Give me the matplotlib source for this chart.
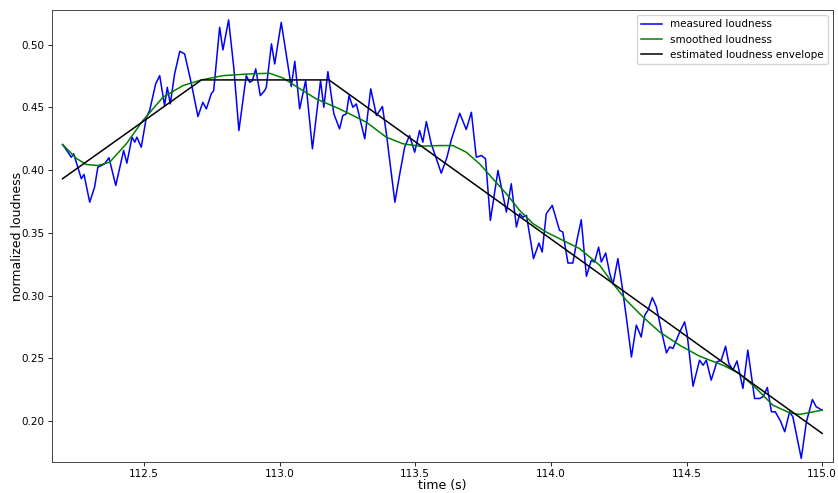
import numpy as np
import matplotlib
matplotlib.use("Agg")
import matplotlib.pyplot as plt

# measured loudness
t_meas = [112.200, 112.220, 112.232, 112.241, 112.269, 112.279, 112.300, 112.318, 112.330, 112.343,
          112.355, 112.371, 112.396, 112.414, 112.425, 112.437, 112.456, 112.466, 112.474, 112.490,
          112.509, 112.521, 112.543, 112.558, 112.576, 112.586, 112.597, 112.613, 112.632, 112.650,
          112.675, 112.699, 112.717, 112.730, 112.748, 112.757, 112.779, 112.791, 112.812, 112.831,
          112.850, 112.877, 112.890, 112.900, 112.912, 112.929, 112.945, 112.951, 112.970, 112.982,
          113.006, 113.043, 113.056, 113.074, 113.096, 113.121, 113.151, 113.163, 113.178, 113.200,
          113.221, 113.233, 113.246, 113.256, 113.270, 113.283, 113.314, 113.336, 113.357, 113.379,
          113.393, 113.425, 113.443, 113.461, 113.479, 113.498, 113.516, 113.528, 113.541, 113.559,
          113.596, 113.617, 113.633, 113.664, 113.688, 113.707, 113.725, 113.744, 113.759, 113.777,
          113.805, 113.836, 113.854, 113.873, 113.885, 113.897, 113.910, 113.936, 113.956, 113.968,
          113.983, 114.005, 114.032, 114.044, 114.063, 114.081, 114.096, 114.112, 114.131, 114.149,
          114.161, 114.176, 114.186, 114.202, 114.217, 114.229, 114.247, 114.263, 114.278, 114.297,
          114.315, 114.333, 114.346, 114.358, 114.374, 114.389, 114.407, 114.426, 114.438, 114.450,
          114.475, 114.493, 114.502, 114.524, 114.548, 114.561, 114.573, 114.591, 114.612, 114.628,
          114.644, 114.656, 114.671, 114.686, 114.708, 114.726, 114.751, 114.769, 114.782, 114.798,
          114.813, 114.827, 114.846, 114.862, 114.880, 114.892, 114.923, 114.942, 114.964, 114.978,
          115.000]
y_meas = [0.4204, 0.4143, 0.4103, 0.4130, 0.3932, 0.3966, 0.3745, 0.3865, 0.4024, 0.4037,
          0.4051, 0.4099, 0.3878, 0.4051, 0.4157, 0.4056, 0.4263, 0.4223, 0.4263, 0.4183,
          0.4422, 0.4475, 0.4687, 0.4753, 0.4515, 0.4660, 0.4528, 0.4767, 0.4947, 0.4926,
          0.4687, 0.4427, 0.4541, 0.4488, 0.4608, 0.4634, 0.5138, 0.4958, 0.5197, 0.4819,
          0.4316, 0.4753, 0.4700, 0.4714, 0.4807, 0.4594, 0.4634, 0.4660, 0.5006, 0.4846,
          0.5177, 0.4666, 0.4867, 0.4488, 0.4714, 0.4170, 0.4714, 0.4501, 0.4785, 0.4449,
          0.4329, 0.4435, 0.4449, 0.4594, 0.4501, 0.4528, 0.4250, 0.4648, 0.4435, 0.4507,
          0.4302, 0.3745, 0.3971, 0.4183, 0.4276, 0.4143, 0.4316, 0.4223, 0.4387, 0.4210,
          0.3976, 0.4103, 0.4242, 0.4453, 0.4324, 0.4461, 0.4103, 0.4117, 0.4091, 0.3600,
          0.3998, 0.3666, 0.3892, 0.3547, 0.3653, 0.3626, 0.3640, 0.3295, 0.3419, 0.3348,
          0.3653, 0.3719, 0.3520, 0.3507, 0.3260, 0.3260, 0.3441, 0.3605, 0.3154, 0.3282,
          0.3268, 0.3387, 0.3268, 0.3340, 0.3176, 0.3091, 0.3295, 0.3069, 0.2831, 0.2512,
          0.2765, 0.2671, 0.2844, 0.2884, 0.2985, 0.2910, 0.2725, 0.2544, 0.2592, 0.2579,
          0.2711, 0.2791, 0.2698, 0.2279, 0.2486, 0.2446, 0.2486, 0.2327, 0.2473, 0.2486,
          0.2597, 0.2460, 0.2407, 0.2480, 0.2261, 0.2566, 0.2181, 0.2181, 0.2194, 0.2269,
          0.2075, 0.2075, 0.2003, 0.1916, 0.2075, 0.2035, 0.1704, 0.1995, 0.2173, 0.2115,
          0.2088]

# smoothed loudness
t_smooth = [112.200, 112.251, 112.288, 112.330, 112.374, 112.435, 112.496, 112.570, 112.644, 112.712,
            112.791, 112.890, 112.963, 113.012, 113.062, 113.135, 113.221, 113.320, 113.393, 113.455,
            113.516, 113.590, 113.639, 113.688, 113.737, 113.786, 113.836, 113.885, 113.934, 113.983,
            114.032, 114.106, 114.180, 114.229, 114.278, 114.339, 114.401, 114.475, 114.548, 114.634,
            114.696, 114.757, 114.818, 114.880, 114.917, 115.000]
y_smooth = [0.4204, 0.4093, 0.4045, 0.4037, 0.4064, 0.4210, 0.4395, 0.4581, 0.4674, 0.4719,
            0.4753, 0.4767, 0.4772, 0.4735, 0.4666, 0.4568, 0.4488, 0.4382, 0.4263, 0.4210,
            0.4191, 0.4196, 0.4196, 0.4143, 0.4051, 0.3932, 0.3812, 0.3679, 0.3574, 0.3507,
            0.3454, 0.3375, 0.3242, 0.3096, 0.2963, 0.2831, 0.2711, 0.2605, 0.2518, 0.2446,
            0.2380, 0.2261, 0.2128, 0.2067, 0.2054, 0.2088]

# estimated envelope (piecewise linear)
t_env = [112.200, 112.712, 113.182, 115.000]
y_env = [0.3932, 0.4719, 0.4719, 0.1903]

plt.rcParams["font.size"] = 7.5
plt.rcParams["xtick.major.size"] = 2.6
plt.rcParams["ytick.major.size"] = 2.6
plt.rcParams["xtick.major.width"] = 0.6
plt.rcParams["ytick.major.width"] = 0.6
plt.rcParams["axes.linewidth"] = 0.7
plt.rcParams["axes.edgecolor"] = "#444444"
plt.rcParams["xtick.major.pad"] = 2.6
plt.rcParams["ytick.major.pad"] = 2.6

fig = plt.figure(figsize=(8.38, 4.93), dpi=100)
ax = fig.add_axes([52 / 838, 31 / 493, 781 / 838, 452 / 493])

ax.plot(t_meas, y_meas, color="blue", lw=1.1, label="measured loudness")
ax.plot(t_smooth, y_smooth, color="green", lw=1.1, label="smoothed loudness")
ax.plot(t_env, y_env, color="black", lw=1.1, label="estimated loudness envelope")

ax.set_xlim(112.161, 115.04)
ax.set_ylim(0.1675, 0.5276)
ax.set_xticks([112.5, 113.0, 113.5, 114.0, 114.5, 115.0])
ax.set_yticks([0.20, 0.25, 0.30, 0.35, 0.40, 0.45, 0.50])

ax.set_xlabel("time (s)", fontsize=9)
ax.set_ylabel("normalized loudness", fontsize=9)
ax.xaxis.set_label_coords(0.5, -0.037)
ax.yaxis.set_label_coords(-0.036, 0.5)

ax.legend(loc="upper right", fontsize=7.5)

fig.savefig("out.png", dpi=100)
